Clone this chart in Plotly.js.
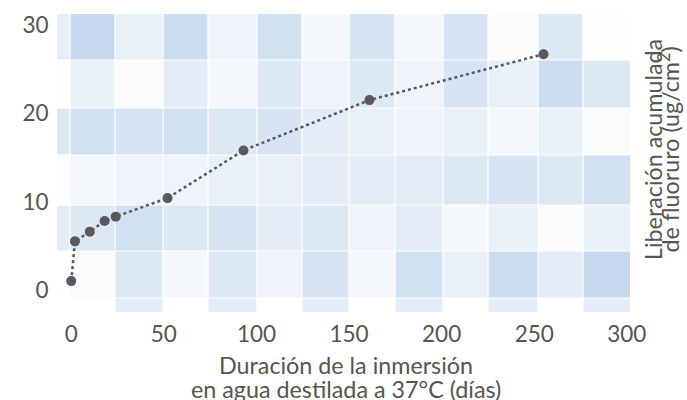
<!DOCTYPE html>
<html>
<head>
<meta charset="utf-8">
<script src="https://cdn.plot.ly/plotly-3.0.1.min.js"></script>
<style>html,body{margin:0;padding:0;background:#fff;}#chart{width:687px;height:400px;}</style>
</head>
<body>
<div id="chart"></div>
<script>
// ---- data ----
const days = [0, 2, 10, 18, 24, 52, 93, 161, 255];
const fluoride = [1.0, 5.5, 6.6, 7.8, 8.3, 10.4, 15.8, 21.5, 26.7];
const xTickVals = [0, 50, 100, 150, 200, 250, 300];
const yTickVals = [0, 10, 20, 30];
const xTitleLines = ["Duración de la inmersión", "en agua destilada a 37°C (días)"];
const yTitleLines = ["Liberación acumulada", "de fluoruro (ug/cm<sup>2</sup>)"];

// ---- decorative plaid background (intensity levels, rows top->bottom) ----
const plaidLevels = [
  [2.2, 5, 2, 4.5, 1.5, 4, 1, 3.5, 1, 3.5, 0.5, 3, 0.1],
  [0.2, 2, 0.5, 2.5, 1, 3, 1.5, 3, 1.5, 3.5, 2, 4.5, 3],
  [3, 4, 3.5, 4, 3, 3.5, 2.5, 2, 1.5, 2, 1, 2, 0.5],
  [0.2, 1, 1.5, 1.5, 2, 2, 2.5, 2.5, 2.5, 3, 3.5, 3, 4],
  [2.5, 3, 4, 3, 3.5, 2.5, 3, 1.5, 2.5, 1, 2, 0.5, 2],
  [0, 0.5, 3, 1, 3, 1.5, 3.5, 1, 4, 2, 4.5, 2.5, 5],
  [0, 0, 2.5, 0, 2.5, 0, 2.5, 0, 2.5, 0, 2.5, 0, 2.5]
];
const colEdges = [57, 70, 115, 163, 208, 257, 302, 349, 395, 443, 488, 538, 583, 630];
const rowEdges = [14, 60, 108, 155, 205, 251, 298, 312];

const W = 687, H = 400, M = {l: 57, r: 57, t: 14, b: 88};
const pw = W - M.l - M.r, ph = H - M.t - M.b;
const xp = px => (px - M.l) / pw;
const yp = py => (H - M.b - py) / ph;
function lvlColor(L) {
  const t = L / 5;
  return `rgb(${Math.round(255 - t*57)},${Math.round(255 - t*38)},${Math.round(255 - t*17)})`;
}
const shapes = [];
const gap = 0.6;
for (let r = 0; r < plaidLevels.length; r++) {
  for (let c = 0; c < plaidLevels[r].length; c++) {
    const L = plaidLevels[r][c];
    if (L <= 0) continue;
    shapes.push({
      type: 'rect', xref: 'paper', yref: 'paper', layer: 'below',
      x0: xp(colEdges[c] + (c > 0 ? gap : 0)), x1: xp(colEdges[c+1] - (c < 12 ? gap : 0)),
      y0: yp(rowEdges[r+1] - (r < 6 ? gap : 0)), y1: yp(rowEdges[r] + (r > 0 ? gap : 0)),
      line: {width: 0}, fillcolor: lvlColor(L)
    });
  }
}

const trace = {
  x: days, y: fluoride, type: 'scatter', mode: 'lines+markers',
  line: {color: '#58585e', width: 2.5, dash: 'dot'},
  marker: {color: '#58585e', size: 10},
  hoverinfo: 'skip'
};

const fontFam = 'Lato, "Open Sans", sans-serif';
const txtColor = '#555';
const annotations = [
  {text: xTitleLines[0], x: xp(346), y: yp(365), textangle: 0, size: 23.3},
  {text: xTitleLines[1], x: xp(346.5), y: yp(389), textangle: 0, size: 23.3},
  {text: yTitleLines[0], x: xp(653), y: yp(150), textangle: -90, size: 23.3},
  {text: yTitleLines[1], x: xp(668.5), y: yp(150), textangle: -90, size: 23.3}
].map(a => ({
  text: a.text, xref: 'paper', yref: 'paper', x: a.x, y: a.y,
  xanchor: 'center', yanchor: 'middle', textangle: a.textangle, showarrow: false,
  font: {size: a.size, color: txtColor, family: fontFam}
}));

const layout = {
  width: W, height: H, margin: M,
  paper_bgcolor: '#fff', plot_bgcolor: 'rgba(0,0,0,0)',
  font: {family: fontFam, color: txtColor, size: 22},
  showlegend: false,
  shapes: shapes,
  xaxis: {
    range: [-7.7, 301.7], tickvals: xTickVals, showgrid: false, zeroline: false, showline: false,
    ticks: 'outside', ticklen: 2, tickcolor: 'rgba(0,0,0,0)',
    tickfont: {size: 22.5, color: txtColor}
  },
  yaxis: {
    range: [-2.5, 31.25], tickvals: yTickVals, showgrid: false, zeroline: false, showline: false,
    ticks: 'outside', ticklen: 3, tickcolor: 'rgba(0,0,0,0)',
    tickfont: {size: 22.5, color: txtColor}
  },
  annotations: annotations
};
Plotly.newPlot('chart', [trace], layout, {displayModeBar: false, staticPlot: true});
</script>
</body>
</html>
